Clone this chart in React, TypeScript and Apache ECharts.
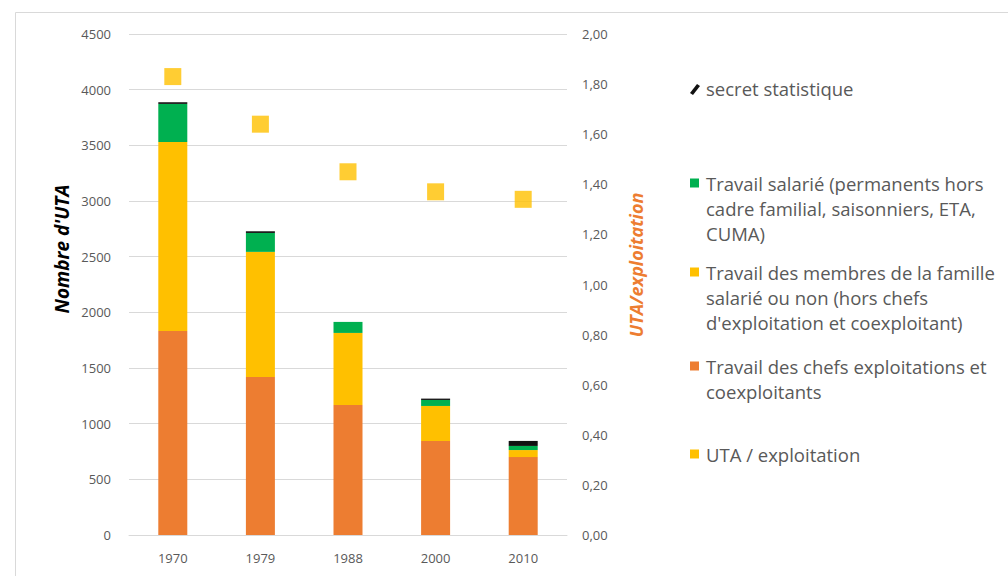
import React, { useEffect, useRef } from "react";
import * as echarts from "echarts";

const years = ["1970", "1979", "1988", "2000", "2010"];
const chefs = [1833, 1420, 1168, 845, 700];
const famille = [1698, 1123, 647, 314, 63];
const salarie = [341, 170, 99, 54, 37];
const secret = [15, 15, 0, 12, 45];
const utaParExpl = [1.83, 1.64, 1.45, 1.37, 1.34];

const nameChefs = "Travail des chefs exploitations et\ncoexploitants";
const nameFamille = "Travail des membres de la famille\nsalarié ou non (hors chefs\nd'exploitation et coexploitant)";
const nameSalarie = "Travail salarié (permanents hors\ncadre familial, saisonniers, ETA,\nCUMA)";
const nameSecret = "secret statistique";
const nameUta = "UTA / exploitation";

const ORANGE = "#ED7D31";
const YELLOW = "#FFC000";
const GREEN = "#00B050";
const FONT = "'Open Sans', sans-serif";

export default function App() {
  const ref = useRef<HTMLDivElement>(null);
  useEffect(() => {
    if (!ref.current) return;
    const chart = echarts.init(ref.current, null, { renderer: "svg" });
    const legendText = (y: number, text: string) => ({
      type: "text",
      x: 706,
      y: y - 12.5,
      style: {
        text,
        fill: "#595959",
        font: `18.5px ${FONT}`,
        lineHeight: 25,
        verticalAlign: "top",
        align: "left",
      },
    });
    const legendBox = (y: number, color: string) => ({
      type: "rect",
      shape: { x: 690, y: y - 4.5, width: 9, height: 9 },
      style: { fill: color },
    });
    chart.setOption({
      animation: false,
      textStyle: { fontFamily: FONT },
      grid: { left: 129, right: 441, top: 34, bottom: 41, containLabel: false },
      xAxis: {
        type: "category",
        data: years,
        axisLine: { lineStyle: { color: "#D9D9D9" } },
        axisTick: { show: false },
        axisLabel: { color: "#595959", fontSize: 13, margin: 16, fontFamily: FONT },
      },
      yAxis: [
        {
          type: "value",
          min: 0,
          max: 4500,
          interval: 500,
          axisLine: { show: false },
          axisTick: { show: false },
          axisLabel: {
            color: "#595959",
            fontSize: 13,
            margin: 18,
            fontFamily: FONT,
            formatter: (v: number) => String(v),
          },
          splitLine: { lineStyle: { color: "#D9D9D9" } },
        },
        {
          type: "value",
          min: 0,
          max: 2,
          interval: 0.2,
          position: "right",
          axisLine: { show: false },
          axisTick: { show: false },
          splitLine: { show: false },
          axisLabel: {
            color: "#595959",
            fontSize: 13,
            margin: 15,
            fontFamily: FONT,
            formatter: (v: number) => v.toFixed(2).replace(".", ","),
          },
        },
      ],
      series: [
        { name: nameChefs, type: "bar", stack: "uta", barWidth: 29, data: chefs, itemStyle: { color: ORANGE } },
        { name: nameFamille, type: "bar", stack: "uta", barWidth: 29, data: famille, itemStyle: { color: YELLOW } },
        { name: nameSalarie, type: "bar", stack: "uta", barWidth: 29, data: salarie, itemStyle: { color: GREEN } },
        { name: nameSecret, type: "bar", stack: "uta", barWidth: 29, data: secret, itemStyle: { color: "#111111" } },
        {
          name: nameUta,
          type: "scatter",
          yAxisIndex: 1,
          symbol: "rect",
          symbolSize: 17,
          data: utaParExpl,
          itemStyle: { color: YELLOW },
          z: 5,
        },
      ],
      graphic: [
        {
          type: "rect",
          shape: { x: 15.5, y: 12.5, width: 1100, height: 700 },
          style: { fill: "none", stroke: "#D9D9D9", lineWidth: 1 },
          silent: true,
        },
        {
          type: "text",
          x: 62,
          y: 249,
          rotation: Math.PI / 2,
          style: {
            text: "Nombre d'UTA",
            fill: "#000000",
            font: `italic bold 19px ${FONT}`,
            align: "center",
            verticalAlign: "middle",
          },
        },
        {
          type: "text",
          x: 636,
          y: 265,
          rotation: Math.PI / 2,
          style: {
            text: "UTA/exploitation",
            fill: ORANGE,
            font: `italic bold 18px ${FONT}`,
            align: "center",
            verticalAlign: "middle",
          },
        },
        {
          type: "polygon",
          shape: { points: [[690, 93], [697, 84], [700, 86], [693, 95]] },
          style: { fill: "#111111" },
        },
        legendText(88, nameSecret),
        legendBox(183, GREEN),
        legendText(183, nameSalarie),
        legendBox(272, YELLOW),
        legendText(272, nameFamille),
        legendBox(366, ORANGE),
        legendText(366, nameChefs),
        legendBox(454, YELLOW),
        legendText(454, nameUta),
      ],
    });
    return () => chart.dispose();
  }, []);
  return (
    <div
      ref={ref}
      style={{ position: "absolute", left: 0, top: 0, width: 1008, height: 576, background: "#ffffff" }}
    />
  );
}
